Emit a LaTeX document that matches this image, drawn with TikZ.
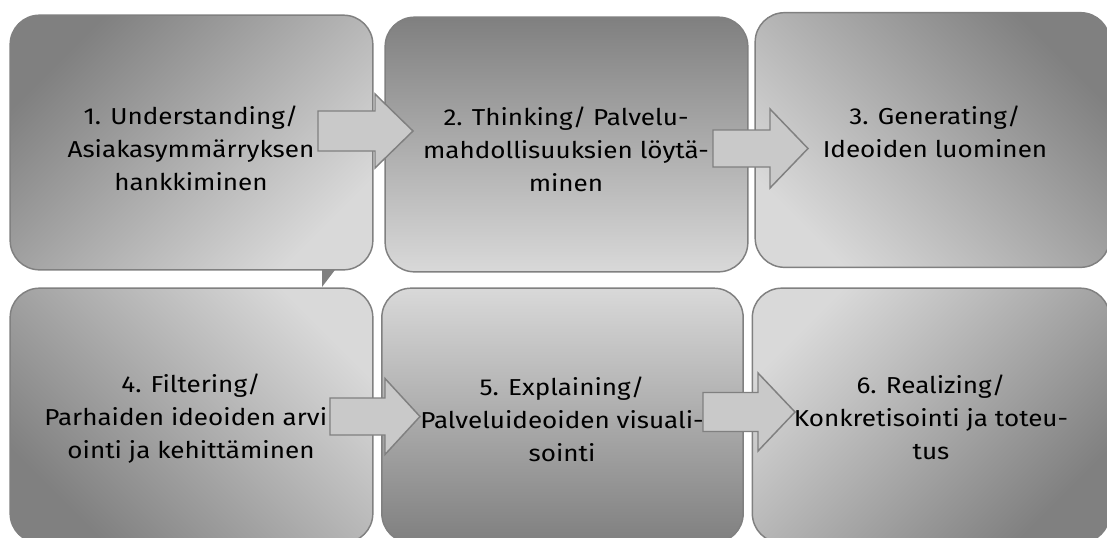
\documentclass[tikz,border=0pt]{standalone}
\usepackage{fontspec}
\setmainfont[FakeStretch=1.13]{Fira Sans}
\begin{document}
\begin{tikzpicture}[x=0.75pt,y=-0.75pt,
  box/.style={draw=black!50,line width=1.1pt,rounded corners=22pt,inner sep=0pt,
    minimum width=272pt,minimum height=191pt},
  lbl/.style={align=center,inner sep=0pt,font=\fontsize{17.3}{24.75}\selectfont,text=black},
  barrowstyle/.style={draw=black!50,line width=1.1pt,fill=black!21,line join=miter}]
\clip (0,0) rectangle (1107,537);
% small triangle under box 1
\fill[black!50] (322,262) -- (341,262) -- (322,287) -- cycle;
% boxes
\node[box,top color=black!50,bottom color=black!15,shading angle=45] (b1) at (191.5,142.5) {};
\node[box,top color=black!50,bottom color=black!15] (b2) at (566.5,144.5) {};
\node[box,top color=black!50,bottom color=black!15,shading angle=-45,minimum width=266pt] (b3) at (932.5,140) {};
\node[box,top color=black!15,bottom color=black!50,shading angle=-45] (b4) at (191.5,415.5) {};
\node[box,top color=black!15,bottom color=black!50,minimum width=271pt] (b5) at (562.5,415.5) {};
\node[box,top color=black!15,bottom color=black!50,shading angle=45,minimum width=268pt] (b6) at (931,415.5) {};
% texts
\node[lbl] (t1) at (191,148) {1. Understanding/\\Asiakasymmärryksen\\hankkiminen};
\node[lbl] (t2) at (566,149) {2. Thinking/ Palvelu-\\mahdollisuuksien löytä-\\minen};
\node[lbl] (t3) at (935,132) {3. Generating/\\Ideoiden luominen};
\node[lbl] (t4) at (191,419) {4. Filtering/\\Parhaiden ideoiden arvi\phantom{-}\\ointi ja kehittäminen};
\node[lbl] (t5) at (562,419) {5. Explaining/\\Palveluideoiden visuali-\\sointi};
\node[lbl] (t6) at (931,417) {6. Realizing/\\Konkretisointi ja toteu-\\tus};
% block arrows
\newcommand\barrow[6]{\draw[barrowstyle] (#1,#4-#5) -- (#2,#4-#5) -- (#2,#4-#6) -- (#3,#4) -- (#2,#4+#6) -- (#2,#4+#5) -- (#1,#4+#5) -- cycle;}
\barrow{318}{375}{413}{131}{20}{37}
\barrow{713}{770}{808}{148.5}{18.5}{39.5}
\barrow{330}{385}{420}{416.5}{18.5}{38}
\barrow{703}{758}{795}{412}{19.5}{39}
\end{tikzpicture}
\end{document}
